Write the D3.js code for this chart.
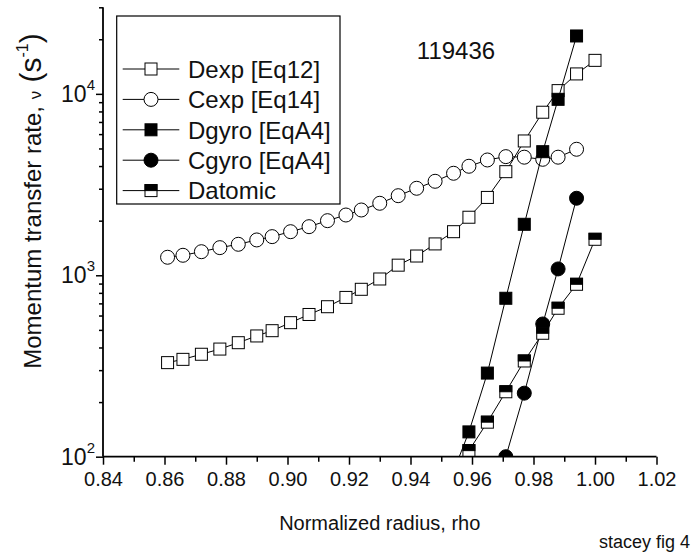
<!DOCTYPE html>
<html>
<head>
<meta charset="utf-8">
<script src="https://cdn.jsdelivr.net/npm/d3@7"></script>
<style>
  html, body { margin: 0; padding: 0; background: #fff; }
  svg { display: block; font-family: "Liberation Sans", Arial, sans-serif; }
</style>
</head>
<body>
<svg id="chart" width="700" height="559"></svg>
<script>
// ---- data ----
const rhoExp = [0.861, 0.866, 0.872, 0.878, 0.884, 0.890, 0.895, 0.901, 0.907, 0.913, 0.919, 0.924, 0.930,
                0.936, 0.942, 0.948, 0.954, 0.959, 0.965, 0.971, 0.977, 0.983, 0.988, 0.994, 1.000];
const dexpVals = [330, 344, 367, 392, 425, 463, 495, 548, 608, 671, 755, 837, 954,
                  1137, 1277, 1489, 1739, 2089, 2686, 3725, 5500, 7920, 10420, 12880, 15300];
const rhoCexp = [0.861, 0.866, 0.872, 0.878, 0.884, 0.890, 0.895, 0.901, 0.907, 0.913, 0.919, 0.924, 0.930,
                 0.936, 0.942, 0.948, 0.954, 0.959, 0.965, 0.971, 0.977, 0.983, 0.988, 0.994];
const cexpVals = [1257, 1289, 1349, 1420, 1482, 1566, 1633, 1739, 1853, 2000, 2149, 2290, 2494,
                  2746, 3017, 3297, 3650, 3990, 4321, 4508, 4477, 4358, 4477, 4950];
const rhoDgyro = [0.954, 0.959, 0.965, 0.971, 0.977, 0.983, 0.988, 0.994];
const dgyroVals = [83, 137, 289, 747, 1910, 4800, 9330, 20850];
const rhoCgyro = [0.971, 0.977, 0.983, 0.988, 0.994];
const cgyroVals = [100, 224, 539, 1084, 2658];
const rhoDatomic = [0.954, 0.959, 0.965, 0.971, 0.977, 0.983, 0.988, 0.994, 1.000];
const datomicVals = [90, 108, 155, 228, 337, 479, 658, 892, 1579];

const seriesNames = ["Dexp [Eq12]", "Cexp [Eq14]", "Dgyro [EqA4]", "Cgyro [EqA4]", "Datomic"];
const xTicks = [0.84, 0.86, 0.88, 0.90, 0.92, 0.94, 0.96, 0.98, 1.00, 1.02];
const yTickExps = [2, 3, 4];
const xLabel = "Normalized radius, rho";
const annotation = "119436";
const footnote = "stacey fig 4";

// ---- chart ----
const svg = d3.select("#chart");
const x = d3.scaleLinear().domain([0.84, 1.02]).range([103, 656.5]);
const y = d3.scaleLog().domain([100, 30000]).range([456.7, 7.3]);

const series = [
  {name: seriesNames[0], rho: rhoExp, v: dexpVals, marker: "openSquare"},
  {name: seriesNames[1], rho: rhoCexp, v: cexpVals, marker: "openCircle"},
  {name: seriesNames[2], rho: rhoDgyro, v: dgyroVals, marker: "filledSquare"},
  {name: seriesNames[3], rho: rhoCgyro, v: cgyroVals, marker: "filledCircle"},
  {name: seriesNames[4], rho: rhoDatomic, v: datomicVals, marker: "halfSquare"}
];

svg.append("defs").append("clipPath").attr("id", "plotclip")
  .append("rect").attr("x", 0).attr("y", 0).attr("width", 700).attr("height", y(100));

const plot = svg.append("g").attr("clip-path", "url(#plotclip)");

const line = d3.line().x(d => x(d[0])).y(d => y(d[1]));

const SQ = 12, R = 7;
function drawMarker(g, type, cx, cy) {
  if (type === "openSquare" || type === "filledSquare") {
    g.append("rect").attr("x", cx - SQ/2).attr("y", cy - SQ/2).attr("width", SQ).attr("height", SQ)
      .attr("fill", type === "filledSquare" ? "#000" : "#fff").attr("stroke", "#000").attr("stroke-width", 1);
  } else if (type === "openCircle" || type === "filledCircle") {
    g.append("circle").attr("cx", cx).attr("cy", cy).attr("r", R)
      .attr("fill", type === "filledCircle" ? "#000" : "#fff").attr("stroke", "#000").attr("stroke-width", 1);
  } else if (type === "halfSquare") {
    g.append("rect").attr("x", cx - SQ/2).attr("y", cy - SQ/2).attr("width", SQ).attr("height", SQ)
      .attr("fill", "#fff").attr("stroke", "#000").attr("stroke-width", 1);
    g.append("rect").attr("x", cx - SQ/2).attr("y", cy - SQ/2).attr("width", SQ).attr("height", SQ/2)
      .attr("fill", "#000").attr("stroke", "#000").attr("stroke-width", 1);
  }
}

series.forEach(s => {
  const pts = s.rho.map((r, i) => [r, s.v[i]]);
  plot.append("path").datum(pts).attr("d", line).attr("fill", "none").attr("stroke", "#000").attr("stroke-width", 1);
  const mg = plot.append("g");
  pts.forEach(p => drawMarker(mg, s.marker, x(p[0]), y(p[1])));
});

// ---- axes ----
const axisColor = "#000";
// x axis
const xAxisG = svg.append("g").attr("transform", `translate(0,${y(100)})`);
xAxisG.append("g").call(d3.axisBottom(x).tickValues(d3.range(0.85, 1.02, 0.02)).tickSize(5).tickFormat(""))
  .call(g => g.select(".domain").remove());
xAxisG.append("g").call(d3.axisBottom(x).tickValues(xTicks).tickSize(8).tickPadding(7).tickFormat(d3.format(".2f")))
  .call(g => g.selectAll("text").attr("font-size", 20).attr("font-family", "Liberation Sans, Arial, sans-serif").attr("fill", "#111"));
xAxisG.selectAll("line").attr("stroke", axisColor).attr("stroke-width", 1.5);
xAxisG.selectAll(".domain").attr("stroke", axisColor).attr("stroke-width", 1.8).attr("d", `M${x(0.84)},0H${x(1.02)}`);

// y axis
const minorY = [];
for (let e = 2; e <= 4; e++) for (let m = 2; m <= 9; m++) { const v = m * Math.pow(10, e); if (v <= 30000) minorY.push(v); }
const yAxisG = svg.append("g").attr("transform", `translate(${x(0.84)},0)`);
yAxisG.append("g").call(d3.axisLeft(y).tickValues(minorY).tickSize(4).tickFormat(""))
  .call(g => g.select(".domain").remove());
const yMajor = yAxisG.append("g").call(d3.axisLeft(y).tickValues(yTickExps.map(e => Math.pow(10, e))).tickSize(7).tickFormat(""));
yAxisG.selectAll("line").attr("stroke", axisColor).attr("stroke-width", 1.5);
yMajor.select(".domain").attr("stroke", axisColor).attr("stroke-width", 1.8).attr("d", `M0,${y(100)}V${y(30000)}`);

yTickExps.forEach(e => {
  const t = svg.append("text").attr("x", 95).attr("y", y(Math.pow(10, e)) + 8)
    .attr("text-anchor", "end").attr("font-size", 23).attr("fill", "#111");
  t.append("tspan").text("10");
  t.append("tspan").attr("font-size", 15).attr("dy", -12).text(String(e));
});

// axis titles
svg.append("text").attr("x", x(0.93)).attr("y", 530).attr("text-anchor", "middle")
  .attr("font-size", 20).attr("fill", "#111").text(xLabel);

const yl = svg.append("text").attr("transform", `translate(41,201) rotate(-90)`)
  .attr("text-anchor", "middle").attr("font-size", 24).attr("fill", "#111");
yl.append("tspan").text("Momentum transfer rate, ");
yl.append("tspan").attr("font-size", 17).text("\u03BD");
yl.append("tspan").attr("font-size", 30).text(" (s");
yl.append("tspan").attr("font-size", 16).attr("dy", -13).text("-1");
yl.append("tspan").attr("font-size", 30).attr("dy", 13).text(")");

// annotation
svg.append("text").attr("x", 456).attr("y", 59).attr("text-anchor", "middle")
  .attr("font-size", 24).attr("fill", "#111").text(annotation);
svg.append("text").attr("x", 690).attr("y", 548).attr("text-anchor", "end")
  .attr("font-size", 18).attr("fill", "#111").text(footnote);

// ---- legend ----
const lg = svg.append("g");
lg.append("rect").attr("x", 116.7).attr("y", 16).attr("width", 223.3).attr("height", 188)
  .attr("fill", "#fff").attr("stroke", "#000").attr("stroke-width", 1.2);
series.forEach((s, i) => {
  const cy = 69 + i * 30.4;
  lg.append("line").attr("x1", 122.7).attr("x2", 179.3).attr("y1", cy).attr("y2", cy)
    .attr("stroke", "#000").attr("stroke-width", 1);
  drawMarker(lg, s.marker, 151, cy);
  lg.append("text").attr("x", 188).attr("y", cy + 8.7).attr("font-size", 24).attr("fill", "#111").text(s.name);
});
</script>
</body>
</html>
